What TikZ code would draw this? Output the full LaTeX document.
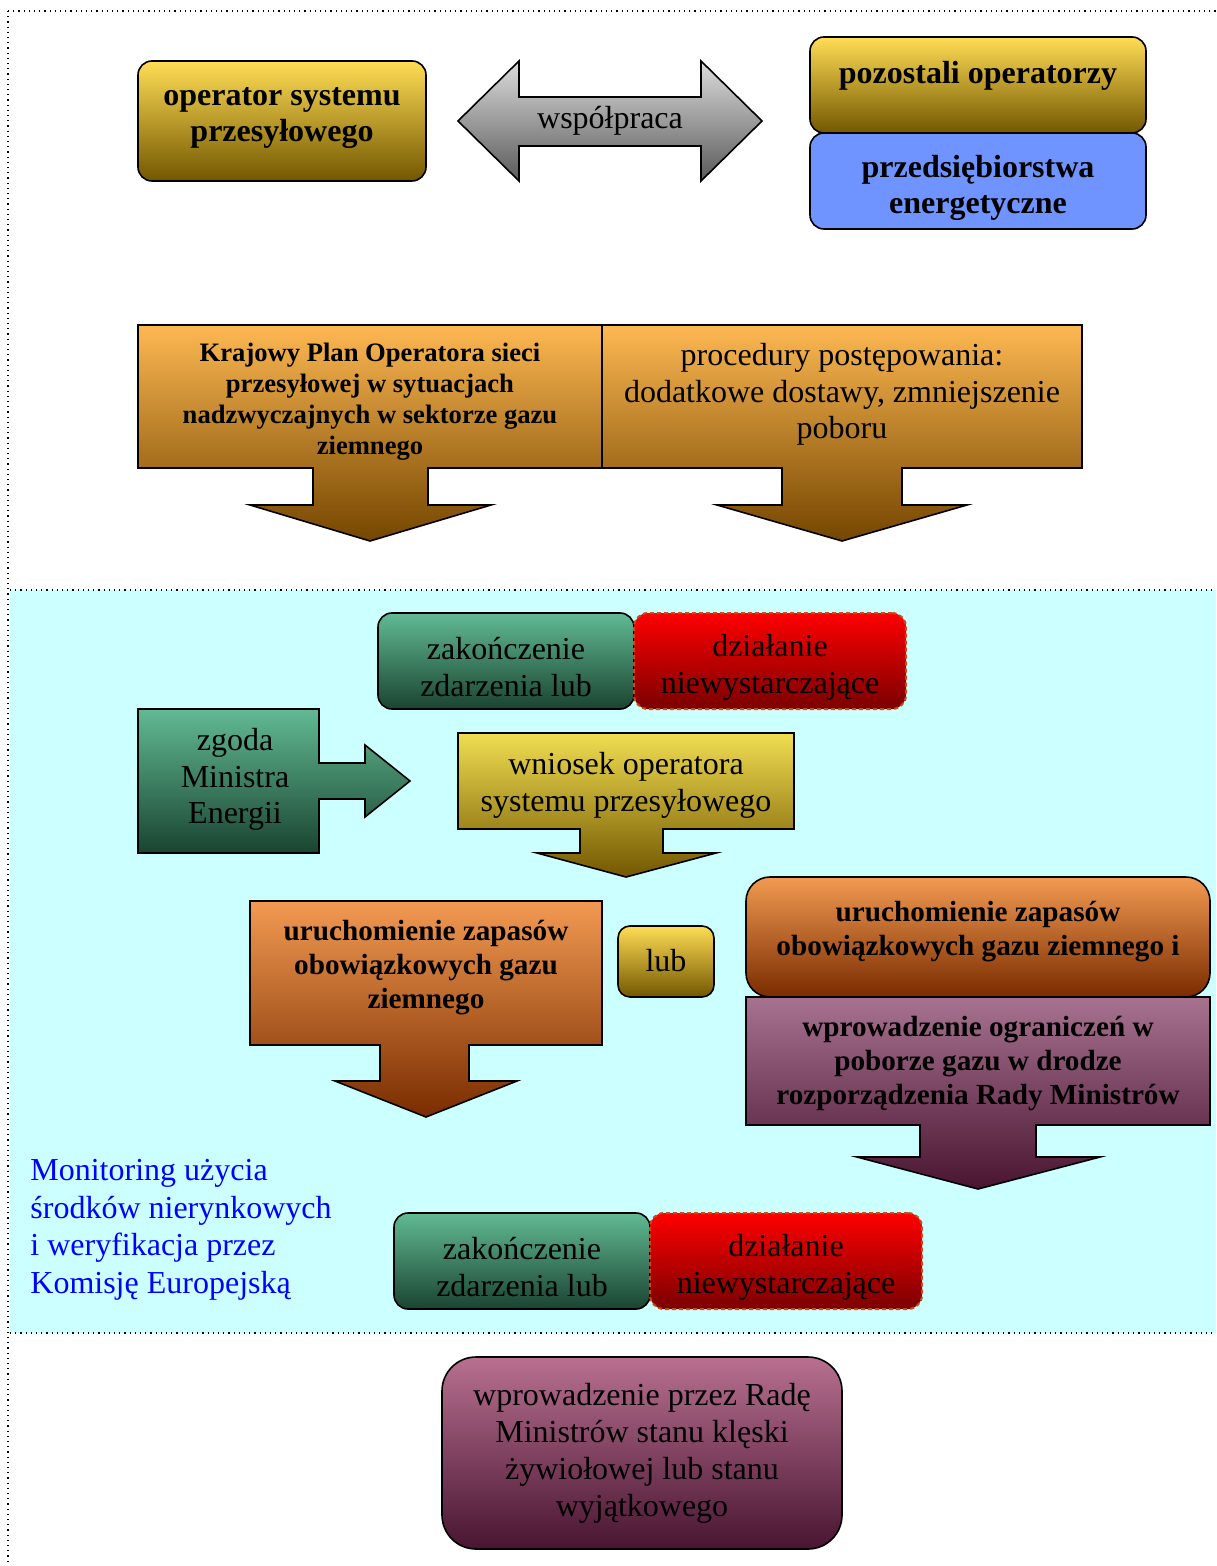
\documentclass[tikz,border=0pt]{standalone}
\usepackage{fontspec}
\setmainfont{Liberation Serif}
\usetikzlibrary{calc}
\definecolor{yelT}{HTML}{FFDD55}
\definecolor{yelB}{HTML}{735700}
\definecolor{yelT2}{HTML}{F0DE52}
\definecolor{greyT}{HTML}{DCDCDC}
\definecolor{greyB}{HTML}{5A5A5A}
\definecolor{blueF}{HTML}{7094FF}
\definecolor{orT}{HTML}{FDB852}
\definecolor{orM}{HTML}{D8962F}
\definecolor{orB}{HTML}{744600}
\definecolor{grT}{HTML}{61BA94}
\definecolor{grB}{HTML}{1A4430}
\definecolor{redT}{HTML}{FF0000}
\definecolor{redB}{HTML}{7A0000}
\definecolor{redD}{HTML}{C05018}
\definecolor{doT}{HTML}{F29A52}
\definecolor{doB}{HTML}{7A2C00}
\definecolor{puT}{HTML}{A87290}
\definecolor{puB}{HTML}{481530}
\definecolor{pu2T}{HTML}{B87090}
\definecolor{cyanF}{HTML}{CCFFFF}
\definecolor{monBlue}{HTML}{0000FF}
\begin{document}
\begin{tikzpicture}[x=0.5pt,y=-0.5pt,
  box/.style={draw=black, line width=0.8pt, inner sep=0pt, outer sep=0pt},
  rbox/.style={box, rounded corners=7pt},
  shp/.style={draw=black, line width=0.8pt, line join=miter},
  txt/.style={align=center, inner sep=0pt, font=\fontsize{16}{18.4}\selectfont},
  btxt/.style={align=center, inner sep=0pt, font=\bfseries\fontsize{16}{18.4}\selectfont},
  bstxt/.style={align=center, inner sep=0pt, font=\bfseries\fontsize{13.3}{15.5}\selectfont},
  bmtxt/.style={align=center, inner sep=0pt, font=\bfseries\fontsize{14.6}{17}\selectfont},
  yel/.style={top color=yelT, bottom color=yelB},
  grn/.style={top color=grT, bottom color=grB},
  rd/.style={top color=redT, bottom color=redB, draw=redD, dash pattern=on 2pt off 1.5pt, line width=1pt},
]
\useasboundingbox (0,0) rectangle (1216,1566);
% background cyan section
\fill[cyanF] (10,590) rectangle (1216,1333);
\coordinate (fTL) at (8,11);
\coordinate (fTR) at (1216,11);
\coordinate (fBL) at (8,1566);
\coordinate (cTL) at (10,590);
\coordinate (cTR) at (1216,590);
\coordinate (cBL) at (10,1333);
\coordinate (cBR) at (1216,1333);
\draw[dotted, line width=0.6pt] (fTL) -- (fTR);
\draw[dotted, line width=0.6pt] (fTL) -- (fBL);
\draw[dotted, line width=0.6pt] (cTL) -- (cTR);
\draw[dotted, line width=0.6pt] (cBL) -- (cBR);

% ---- top section
\node[rbox, yel, minimum width=144pt, minimum height=60pt] (op) at (282,121) {};
\node[btxt] (opt) at (282,118) {operator systemu\\przesyłowego};

\path[shp, top color=greyT, bottom color=greyB]
  (458,121) -- (519,61) -- (519,97) -- (701,97) -- (701,61) -- (762,121)
  -- (701,181) -- (701,146) -- (519,146) -- (519,181) -- cycle;
\node[txt] (wsp) at (610,120.5) {współpraca};

\node[rbox, fill=blueF, minimum width=168pt, minimum height=48pt] (pe) at (978,181) {};
\node[btxt] (pet) at (978,188) {przedsiębiorstwa\\energetyczne};
\node[rbox, yel, minimum width=168pt, minimum height=48pt] (po) at (978,85) {};
\node[btxt] (pot) at (978,75.5) {pozostali operatorzy};

% ---- section 2
\path[shp, top color=orT, middle color=orM, bottom color=orB]
  (138,325) -- (602,325) -- (602,468) -- (428,468) -- (428,505) -- (491,505)
  -- (370,541) -- (250,505) -- (313,505) -- (313,468) -- (138,468) -- cycle;
\path[shp, top color=orT, middle color=orM, bottom color=orB]
  (602,325) -- (1082,325) -- (1082,468) -- (902,468) -- (902,505) -- (967,505)
  -- (842,541) -- (717,505) -- (782,505) -- (782,468) -- (602,468) -- cycle;
\node[bstxt] (kp) at (370,401.5) {Krajowy Plan Operatora sieci\\przesyłowej w sytuacjach\\nadzwyczajnych w sektorze gazu\\ziemnego};
\node[txt] (pp) at (842,394.5) {procedury postępowania:\\dodatkowe dostawy, zmniejszenie\\poboru};

% ---- cyan section
\node[rbox, grn, minimum width=128pt, minimum height=48pt] (z1) at (506,661) {};
\node[txt] (z1t) at (506,667) {zakończenie\\zdarzenia lub};
\node[rbox, rd, minimum width=136pt, minimum height=48pt] (d1) at (770,661) {};
\node[txt] (d1t) at (770,667) {działanie\\niewystarczające};

\path[shp, grn]
  (138,709) -- (319,709) -- (319,763) -- (365,763) -- (365,745) -- (410,781)
  -- (365,817) -- (365,799) -- (319,799) -- (319,853) -- (138,853) -- cycle;
\node[txt] (zg) at (235,779.5) {zgoda\\Ministra\\Energii};

\path[shp, top color=yelT2, bottom color=yelB]
  (458,733) -- (794,733) -- (794,829) -- (663,829) -- (663,853) -- (716,853)
  -- (626,877) -- (537,853) -- (580,853) -- (580,829) -- (458,829) -- cycle;
\node[txt] (wn) at (626,785.5) {wniosek operatora\\systemu przesyłowego};

\path[shp, top color=doT, bottom color=doB]
  (250,901) -- (602,901) -- (602,1045) -- (469,1045) -- (469,1081) -- (517,1081)
  -- (426,1117) -- (335,1081) -- (380,1081) -- (380,1045) -- (250,1045) -- cycle;
\node[bmtxt] (ur1) at (426,967.5) {uruchomienie zapasów\\obowiązkowych gazu\\ziemnego};

\node[rbox, yel, rounded corners=6pt, minimum width=48pt, minimum height=35.5pt] (lub) at (666,961.5) {};
\node[txt] (lubt) at (666,961) {lub};

\path[shp, top color=puT, bottom color=puB]
  (746,997) -- (1210,997) -- (1210,1125) -- (1036,1125) -- (1036,1157) -- (1100,1157)
  -- (978,1189) -- (857,1157) -- (920,1157) -- (920,1125) -- (746,1125) -- cycle;
\node[bmtxt] (wo) at (978,1063.5) {wprowadzenie ograniczeń w\\poborze gazu w drodze\\rozporządzenia Rady Ministrów};

\node[rbox, top color=doT, bottom color=doB, rounded corners=12pt, minimum width=232pt, minimum height=60pt] (ur2) at (978,937) {};
\node[bmtxt] (ur2t) at (978,931.5) {uruchomienie zapasów\\obowiązkowych gazu ziemnego i};

\node[align=left, anchor=west, inner sep=0pt, text=monBlue, font=\fontsize{16}{18.75}\selectfont] (mon) at (30,1230) {Monitoring użycia\\środków nierynkowych\\i weryfikacja przez\\Komisję Europejską};

\node[rbox, grn, minimum width=128pt, minimum height=48pt] (z2) at (522,1261) {};
\node[txt] (z2t) at (522,1267) {zakończenie\\zdarzenia lub};
\node[rbox, rd, minimum width=136pt, minimum height=48pt] (d2) at (786,1261) {};
\node[txt] (d2t) at (786,1267) {działanie\\niewystarczające};

% ---- bottom section
\node[rbox, top color=pu2T, bottom color=puB, rounded corners=17pt, minimum width=200pt, minimum height=96pt] (kl) at (642,1453) {};
\node[txt] (klt) at (642,1453.5) {wprowadzenie przez Radę\\Ministrów stanu klęski\\żywiołowej lub stanu\\wyjątkowego};
\end{tikzpicture}
\end{document}
